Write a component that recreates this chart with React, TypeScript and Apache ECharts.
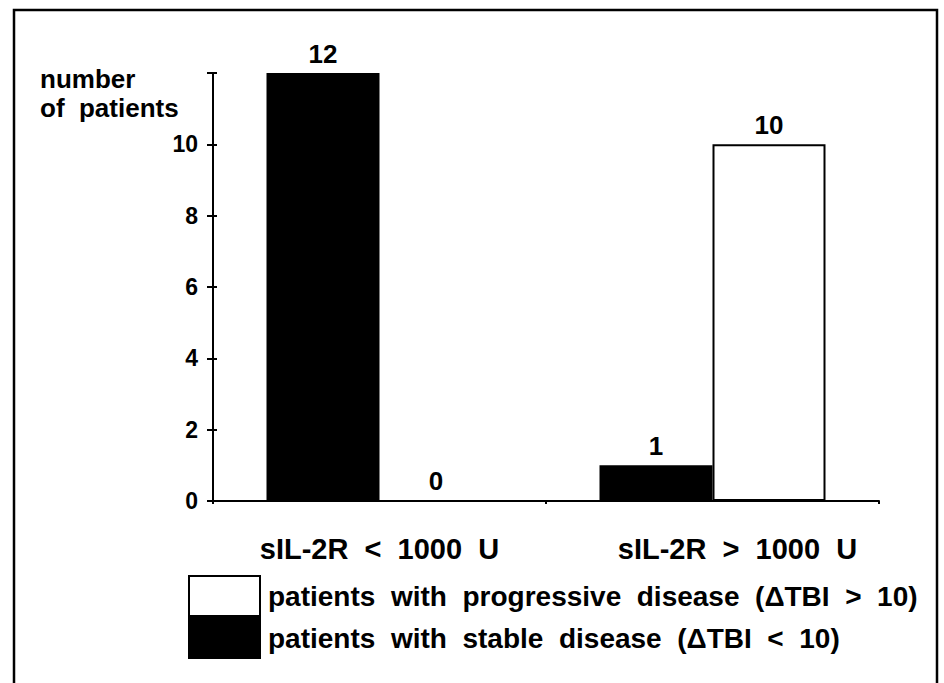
import React, { useEffect, useRef } from "react";
import * as echarts from "echarts";

const categories = ["sIL-2R  <  1000  U", "sIL-2R  >  1000  U"];
const stableName = "patients  with  stable  disease  (ΔTBI  <  10)";
const progressiveName = "patients  with  progressive  disease  (ΔTBI  >  10)";
const stableValues = [12, 1];
const progressiveValues = [0, 10];
const yTicks = [0, 2, 4, 6, 8, 10, 12];
const yTitle = "number\nof  patients";

const FONT = "'Liberation Sans', Arial, sans-serif";

export default function App() {
  const ref = useRef<HTMLDivElement>(null);
  useEffect(() => {
    document.body.style.margin = "0";
    const chart = echarts.init(ref.current!, null, { renderer: "svg" });
    const yMax = yTicks[yTicks.length - 1];
    const yAxisBase = {
      type: "value",
      min: yTicks[0],
      max: yMax,
      interval: 2,
      splitLine: { show: false },
    };
    const labelStyle = (size: number) => ({
      color: "#000",
      fontSize: size,
      fontWeight: "bold",
      fontFamily: FONT,
    });
    chart.setOption({
      animation: false,
      backgroundColor: "#ffffff",
      textStyle: { fontFamily: FONT },
      grid: { left: 213, right: 65, top: 73, bottom: 182, containLabel: false },
      xAxis: {
        type: "category",
        data: categories.map((c, i) =>
          i === 1 ? { value: c, textStyle: { padding: [0, 0, 0, 50] } } : c
        ),
        axisLine: { lineStyle: { color: "#000", width: 2 } },
        axisTick: { show: true, length: 3, lineStyle: { color: "#000", width: 2 } },
        axisLabel: { margin: 33, ...labelStyle(29) },
      },
      yAxis: [
        {
          ...yAxisBase,
          axisLine: { show: true, lineStyle: { color: "#000", width: 2 } },
          axisTick: { show: true, length: 6, lineStyle: { color: "#000", width: 2 } },
          axisLabel: {
            margin: 15,
            ...labelStyle(23),
            formatter: (v: number) => (v === yMax ? "" : String(v)),
          },
        },
        {
          ...yAxisBase,
          position: "left",
          axisLine: { show: false },
          axisTick: { show: true, inside: true, length: 4, lineStyle: { color: "#000", width: 2 } },
          axisLabel: { show: false },
        },
      ],
      legend: {
        orient: "vertical",
        left: 188,
        top: 575,
        itemWidth: 71,
        itemHeight: 40,
        itemGap: 0,
        padding: 0,
        icon: "rect",
        data: [progressiveName, stableName],
        textStyle: { ...labelStyle(28), padding: [16, 0, 0, 3] },
        selectedMode: false,
      },
      series: [
        {
          name: stableName,
          type: "bar",
          data: stableValues,
          barWidth: 113,
          barGap: "0%",
          itemStyle: { color: "#000", borderColor: "#000", borderWidth: 2 },
          label: { show: true, position: "top", distance: 6, ...labelStyle(26) },
        },
        {
          name: progressiveName,
          type: "bar",
          data: progressiveValues,
          barWidth: 113,
          barGap: "0%",
          itemStyle: { color: "#fff", borderColor: "#000", borderWidth: 2 },
          label: { show: true, position: "top", distance: 6, ...labelStyle(26) },
        },
      ],
      graphic: [
        {
          type: "rect",
          shape: { x: 14, y: 10, width: 923, height: 700 },
          style: { fill: "none", stroke: "#000", lineWidth: 2.5 },
          silent: true,
        },
        {
          type: "text",
          left: 40,
          top: 64,
          style: {
            text: yTitle,
            fill: "#000",
            font: `bold 26px ${FONT}`,
            lineHeight: 29,
          },
        },
      ],
    });
    return () => chart.dispose();
  }, []);
  return <div ref={ref} style={{ width: 944, height: 683 }} />;
}
